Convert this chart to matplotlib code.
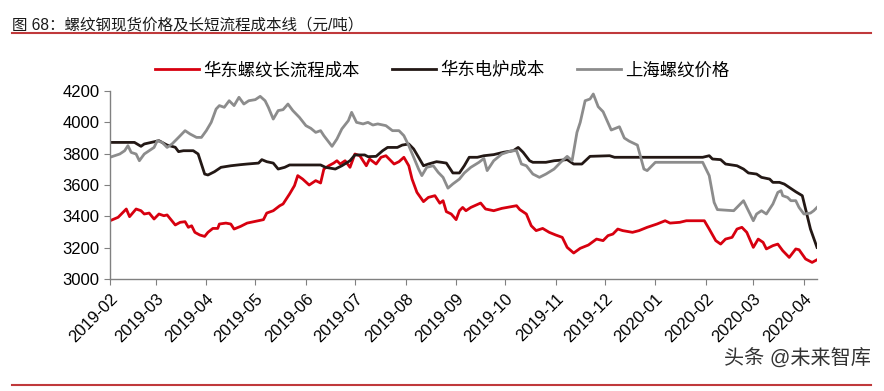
import numpy as np
import pandas as pd
import matplotlib
matplotlib.use('Agg')
import matplotlib.pyplot as plt
import matplotlib.dates as mdates

plt.rcParams['font.family'] = ['Liberation Sans', 'Noto Sans CJK SC', 'DejaVu Sans']

# data: day offset from 2019-02-01, value (yuan/ton)
START = pd.Timestamp('2019-02-01')

red_days = [0, 5, 9, 10, 12, 16, 19, 21, 24, 27, 30, 33, 35, 37, 40, 43, 46, 48, 50, 52,
            55, 58, 60, 63, 66, 67, 71, 74, 76, 80, 84, 88, 94, 96, 100, 104,
            106, 110, 113, 115, 118, 122, 126, 129, 131, 134, 137, 139, 141, 144, 147,
            150, 153, 157, 159, 163, 166, 169, 174, 177, 180, 183, 185, 188, 192, 195,
            199, 202, 204, 206, 209, 212, 214, 216, 218, 221, 227, 230, 235, 240, 249,
            251, 255, 258, 261, 265, 269, 273, 277, 280, 284, 288, 293, 298, 302, 305,
            308, 311, 314, 320, 324, 329, 335, 340, 343, 349, 353, 364, 367, 371, 374,
            377, 381, 384, 387, 390, 394, 397, 400, 402, 406, 409, 412, 416, 420, 422,
            426, 430, 433]
red_vals = [3372, 3394, 3436, 3447, 3398, 3447, 3436, 3415, 3421, 3383, 3415, 3404, 3409,
            3383, 3345, 3362, 3366, 3330, 3340, 3298, 3281, 3272, 3298, 3323, 3323, 3351,
            3357, 3351, 3319, 3336, 3357, 3366, 3379, 3421, 3436, 3468,
            3479, 3543, 3596, 3660, 3638, 3600, 3628, 3613, 3702, 3723, 3740, 3755, 3734,
            3755, 3713, 3798, 3787, 3723, 3766, 3734, 3777, 3787, 3734, 3749, 3777, 3723,
            3638, 3553, 3494, 3521, 3532, 3484, 3500, 3430, 3415, 3379, 3436, 3457, 3436,
            3457, 3485, 3447, 3436, 3451, 3468, 3443, 3415, 3340, 3309, 3323, 3298, 3281,
            3266, 3202, 3166, 3196, 3217, 3255, 3245, 3277, 3287, 3319, 3309, 3298, 3309,
            3330, 3351, 3372, 3357, 3362, 3372, 3372, 3319, 3245, 3223, 3255, 3266, 3319,
            3330, 3298, 3202, 3255, 3234, 3192, 3213, 3223, 3181, 3138, 3192, 3187, 3128,
            3106, 3123]

black_days = [0, 15, 19, 21, 30, 35, 40, 42, 45, 51, 54, 56, 58, 60, 64, 68, 74, 80, 84,
              91, 93, 96, 100, 103, 107, 110, 129, 132, 138, 142, 147, 150, 156, 158, 163,
              167, 170, 176, 179, 183, 186, 189, 192, 195, 200, 203, 206, 210, 214, 217,
              220, 225, 229, 235, 241, 247, 250, 253, 257, 259, 267, 272, 280, 284, 289,
              294, 306, 309, 327, 363, 367, 369, 374, 377, 384, 388, 391, 396, 399, 404,
              406, 410, 413, 416, 420, 424, 426, 429, 433]
black_vals = [3872, 3872, 3847, 3862, 3883, 3855, 3841, 3813, 3819, 3819, 3798, 3734, 3670,
              3664, 3685, 3713, 3723, 3730, 3734, 3740, 3762, 3749, 3740, 3702, 3713, 3728,
              3728, 3713, 3702, 3723, 3755, 3792, 3792, 3781, 3783, 3819, 3840, 3840, 3855,
              3862, 3830, 3777, 3723, 3734, 3749, 3745, 3740, 3677, 3677, 3723, 3777, 3777,
              3787, 3794, 3809, 3819, 3840, 3809, 3755, 3745, 3745, 3755, 3762, 3734, 3734,
              3783, 3787, 3777, 3777, 3777, 3787, 3766, 3762, 3734, 3723, 3702, 3677, 3670,
              3649, 3638, 3617, 3617, 3606, 3585, 3557, 3532, 3447, 3319, 3202]

gray_days = [0, 6, 9, 11, 13, 16, 18, 21, 24, 27, 29, 32, 35, 38, 42, 46, 49, 53, 56, 59,
             62, 65, 67, 70, 73, 76, 79, 82, 85, 89, 92, 95, 97, 100, 103, 106, 109, 112,
             116, 120, 123, 126, 129, 131, 136, 139, 142, 146, 148, 151, 155, 158, 161,
             164, 169, 173, 177, 180, 183, 186, 189, 191, 194, 198, 201, 204, 207, 210,
             214, 217, 221, 226, 229, 231, 235, 240, 246, 249, 252, 255, 259, 263, 267,
             272, 276, 280, 283, 286, 288, 291, 294, 296, 299, 302, 307, 312, 315, 318,
             323, 327, 329, 334, 363, 367, 370, 372, 382, 385, 388, 390, 392, 394, 396,
             399, 402, 406, 409, 411, 412, 415, 417, 420, 422, 425, 429, 431, 433]
gray_vals = [3777, 3798, 3819, 3851, 3808, 3798, 3755, 3798, 3819, 3840, 3883, 3872, 3840,
             3862, 3904, 3947, 3926, 3904, 3904, 3947, 4000, 4085, 4107, 4096, 4138, 4107,
             4160, 4117, 4138, 4145, 4166, 4138, 4096, 4021, 4075, 4081, 4117, 4075, 4032,
             3979, 3962, 3936, 3947, 3915, 3847, 3894, 3958, 4011, 4064, 4000, 3990, 4000,
             3983, 3990, 3979, 3947, 3947, 3915, 3851, 3777, 3702, 3660, 3713, 3723, 3681,
             3649, 3580, 3607, 3638, 3677, 3713, 3745, 3770, 3692, 3755, 3798, 3819, 3819,
             3734, 3723, 3670, 3649, 3670, 3702, 3745, 3783, 3755, 3936, 4000, 4138, 4149,
             4181, 4100, 4068, 3951, 3972, 3900, 3880, 3855, 3702, 3692, 3745, 3745, 3660,
             3489, 3443, 3436, 3468, 3500, 3457, 3415, 3372, 3415, 3436, 3415, 3479, 3553,
             3564, 3532, 3521, 3500, 3500, 3457, 3415, 3421, 3436, 3457]

labels = ['华东螺纹长流程成本', '华东电炉成本', '上海螺纹价格']
colors = ['#d7000f', '#231815', '#8c8c8c']
yticks = [3000, 3200, 3400, 3600, 3800, 4000, 4200]


def to_dates(days):
    return START + pd.to_timedelta(days, unit='D')


fig = plt.figure(figsize=(8.84, 3.91), dpi=100)
ax = fig.add_axes([0.1244, 0.2864, 0.7998, 0.4808])

ax.plot(to_dates(red_days), red_vals, color=colors[0], lw=2.0, label=labels[0])
ax.plot(to_dates(black_days), black_vals, color=colors[1], lw=2.0, label=labels[1])
ax.plot(to_dates(gray_days), gray_vals, color=colors[2], lw=2.0, label=labels[2])

ax.set_ylim(3000, 4200)
ax.set_yticks(yticks)
ax.set_xlim(START, pd.Timestamp('2020-04-09'))
ax.xaxis.set_major_locator(mdates.MonthLocator())
ax.xaxis.set_major_formatter(mdates.DateFormatter('%Y-%m'))
for lab in ax.get_xticklabels():
    lab.set_rotation(45)
    lab.set_ha('right')
    lab.set_rotation_mode('anchor')
ax.tick_params(axis='x', labelsize=12, length=4, color='#808080', direction='out', pad=5)
ax.tick_params(axis='y', labelsize=12, length=4, color='#808080', direction='out')

for s in ['top', 'right']:
    ax.spines[s].set_visible(False)
for s in ['left', 'bottom']:
    ax.spines[s].set_color('#808080')
    ax.spines[s].set_linewidth(1.0)

leg = ax.legend(loc='center', bbox_to_anchor=(0.47, 1.112), ncol=3, frameon=False,
                fontsize=12.5, handlelength=2.5, columnspacing=1.9, handletextpad=0.25,
                borderaxespad=0)

# title and frame lines
fig.text(0.014, 0.955, '图 68：螺纹钢现货价格及长短流程成本线（元/吨）', fontsize=11.2,
         ha='left', va='top', color='#1a1a1a')
fig.add_artist(plt.Line2D([0.014, 0.985], [0.916, 0.916], color='#c0393b', lw=1.5))
fig.add_artist(plt.Line2D([0.014, 0.985], [0.016, 0.016], color='#c0393b', lw=1.5))
fig.text(0.985, 0.06, '头条 @未来智库', fontsize=14.5, ha='right', va='bottom', color='#333333')

fig.savefig('out.png', dpi=100)
